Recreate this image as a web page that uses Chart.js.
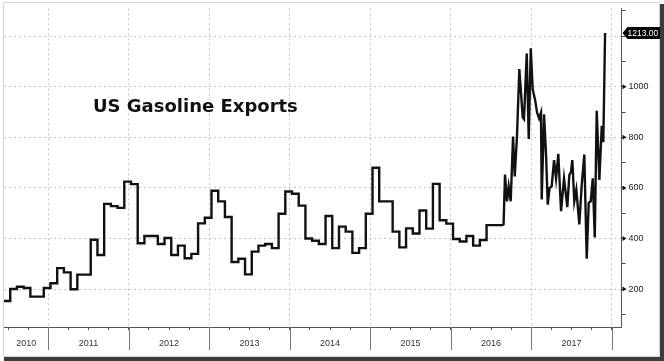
<!DOCTYPE html>
<html>
<head>
<meta charset="utf-8">
<script src="https://cdn.jsdelivr.net/npm/chart.js@4.4.0/dist/chart.umd.min.js"></script>
<style>
  html, body { margin: 0; padding: 0; background: #fff; }
  #wrap { width: 664px; height: 361px; }
</style>
</head>
<body>
<div id="wrap"><canvas id="chart" width="664" height="361"></canvas></div>
<script>
// monthly figures, Jun 2010 .. Jul 2016 (thousand b/d)
const monthlyStart = 2010 + 5 / 12;
const monthlyExports = [
  153, 153, 200, 209, 204, 170, 170,
  204, 223, 283, 266, 199, 257, 257, 395, 335, 537, 528, 521,
  625, 615, 381, 410, 410, 378, 402, 335, 372, 322, 339, 460,
  482, 589, 547, 485, 307, 320, 258, 348, 372, 378, 362, 498,
  586, 577, 530, 400, 391, 378, 489, 362, 447, 427, 343, 362,
  498, 680, 547, 547, 427, 365, 440, 420, 511, 439, 616, 472,
  459, 398, 388, 410, 372, 394, 453
];
// monthly values are stamped around the 11th
const monthlyStamp = 10 / 365;

// weekly figures from Aug 2016
const weeklyDates = [
  2016.655, 2016.673, 2016.698, 2016.719, 2016.744, 2016.773, 2016.794, 2016.822,
  2016.851, 2016.893, 2016.909, 2016.943, 2016.968, 2016.993, 2017.017, 2017.046,
  2017.071, 2017.096, 2017.120, 2017.129, 2017.158, 2017.183, 2017.204, 2017.226,
  2017.253, 2017.282, 2017.307, 2017.335, 2017.369, 2017.406, 2017.425, 2017.447,
  2017.472, 2017.493, 2017.509, 2017.534, 2017.559, 2017.596, 2017.626, 2017.658,
  2017.688, 2017.713, 2017.738, 2017.763, 2017.788, 2017.812, 2017.845, 2017.875,
  2017.894, 2017.916
];
const weeklyExports = [
  453, 653, 547, 606, 547, 803, 645, 807,
  1070, 879, 872, 1132, 794, 1152, 989, 950,
  898, 875, 898, 554, 891, 729, 534, 599,
  606, 710, 638, 735, 508, 638, 586, 524,
  651, 664, 710, 547, 593, 456, 612, 732,
  320, 541, 547, 638, 404, 905, 632, 846,
  781, 1213
];

const yearLabels = ['2010', '2011', '2012', '2013', '2014', '2015', '2016', '2017'];
const yTicks = [100, 200, 300, 400, 500, 600, 700, 800, 900, 1000, 1100, 1200, 1300];
const yLabels = [200, 400, 600, 800, 1000];
const quarterTicks = [];
for (let q = 2010.5; q <= 2018; q += 0.25) quarterTicks.push(q);

const lastValue = weeklyExports[weeklyExports.length - 1];

const monthlyPoints = monthlyExports.map((v, i) => ({ x: monthlyStart + i / 12 + monthlyStamp, y: v }));
monthlyPoints.push({ x: weeklyDates[0], y: monthlyExports[monthlyExports.length - 1] });
const weeklyPoints = weeklyDates.map((d, i) => ({ x: d, y: weeklyExports[i] }));

const frame = {
  id: 'frame',
  beforeDraw(chart) {
    const c = chart.ctx;
    c.save();
    c.fillStyle = '#fff';
    c.fillRect(0, 0, chart.width, chart.height);
    c.fillStyle = '#3c3c3c';
    c.fillRect(660, 4, 4, 357);
    c.fillRect(4, 357, 660, 4);
    c.strokeStyle = '#d6d6d6';
    c.lineWidth = 1;
    c.strokeRect(3.5, 2.5, 656, 354);
    c.restore();
  },
  afterDraw(chart) {
    const c = chart.ctx;
    const xs = chart.scales.x, ys = chart.scales.y;
    const area = chart.chartArea;
    c.save();
    // year separators + labels
    c.strokeStyle = '#777';
    c.lineWidth = 1;
    c.font = '9px "Liberation Sans"';
    c.fillStyle = '#333';
    c.textAlign = 'center';
    c.textBaseline = 'middle';
    yearLabels.forEach(lbl => {
      const yr = +lbl;
      const x1 = Math.max(xs.getPixelForValue(yr), area.left);
      const x2 = Math.min(xs.getPixelForValue(yr + 1), area.right);
      if (yr + 1 <= xs.max) {
        const px = Math.round(xs.getPixelForValue(yr + 1)) + 0.5;
        c.beginPath();
        c.moveTo(px, area.bottom);
        c.lineTo(px, area.bottom + 23);
        c.stroke();
      }
      c.fillText(lbl, (x1 + x2) / 2, area.bottom + 17);
    });
    // little pointers on the labelled y ticks
    c.fillStyle = '#111';
    yLabels.forEach(v => {
      const py = ys.getPixelForValue(v);
      c.beginPath();
      c.moveTo(area.right + 1, py - 2.5);
      c.lineTo(area.right + 5, py);
      c.lineTo(area.right + 1, py + 2.5);
      c.closePath();
      c.fill();
    });
    // title
    c.font = 'bold 18px "DejaVu Sans"';
    c.fillStyle = '#111';
    c.textAlign = 'left';
    c.textBaseline = 'alphabetic';
    c.fillText('US Gasoline Exports', 93, 112);
    // last value tag
    const ty = ys.getPixelForValue(lastValue);
    const tx = area.right + 1;
    c.fillStyle = '#000';
    c.beginPath();
    c.moveTo(tx, ty);
    c.lineTo(tx + 5, ty - 6);
    c.lineTo(660, ty - 6);
    c.lineTo(660, ty + 6);
    c.lineTo(tx + 5, ty + 6);
    c.closePath();
    c.fill();
    c.fillStyle = '#fff';
    c.font = '8.5px "Liberation Sans"';
    c.textBaseline = 'middle';
    c.fillText(lastValue.toFixed(2), tx + 5, ty + 0.5);
    c.restore();
  }
};

new Chart(document.getElementById('chart'), {
  type: 'line',
  data: {
    datasets: [
      {
        data: monthlyPoints,
        stepped: 'after',
        borderColor: '#111',
        borderWidth: 2.4,
        pointRadius: 0,
        fill: false
      },
      {
        data: weeklyPoints,
        borderColor: '#111',
        borderWidth: 2.4,
        pointRadius: 0,
        tension: 0,
        fill: false
      }
    ]
  },
  options: {
    responsive: false,
    animation: false,
    events: [],
    layout: { padding: { left: 4, top: 5, right: 0, bottom: 4 } },
    plugins: { legend: { display: false }, tooltip: { enabled: false } },
    scales: {
      x: {
        type: 'linear',
        min: 2010.45,
        max: 2018.12,
        afterBuildTicks: s => { s.ticks = quarterTicks.map(v => ({ value: v })); },
        afterFit: s => { s.height = 30; },
        border: { display: true, color: '#555', width: 1, dash: [2, 3] },
        grid: {
          color: ctx => Number.isInteger(ctx.tick.value) ? '#c4c4c4' : 'rgba(0,0,0,0)',
          lineWidth: 1,
          drawTicks: true,
          tickLength: 3,
          tickColor: '#555',
          tickBorderDash: []
        },
        ticks: { display: false }
      },
      y: {
        type: 'linear',
        position: 'right',
        min: 50,
        max: 1310,
        afterBuildTicks: s => { s.ticks = yTicks.map(v => ({ value: v })); },
        afterFit: s => { s.width = 42.5; },
        border: { display: true, color: '#555', width: 1, dash: [2, 3] },
        grid: {
          color: ctx => (yLabels.includes(ctx.tick.value) || ctx.tick.value === 1200) ? '#c4c4c4' : 'rgba(0,0,0,0)',
          lineWidth: 1,
          drawTicks: true,
          tickLength: 4,
          tickColor: '#444',
          tickBorderDash: []
        },
        ticks: {
          autoSkip: false,
          padding: 3,
          color: '#222',
          font: { family: 'Liberation Sans', size: 9 },
          callback: v => yLabels.includes(v) ? String(v) : ''
        }
      }
    }
  },
  plugins: [frame]
});
</script>
</body>
</html>
